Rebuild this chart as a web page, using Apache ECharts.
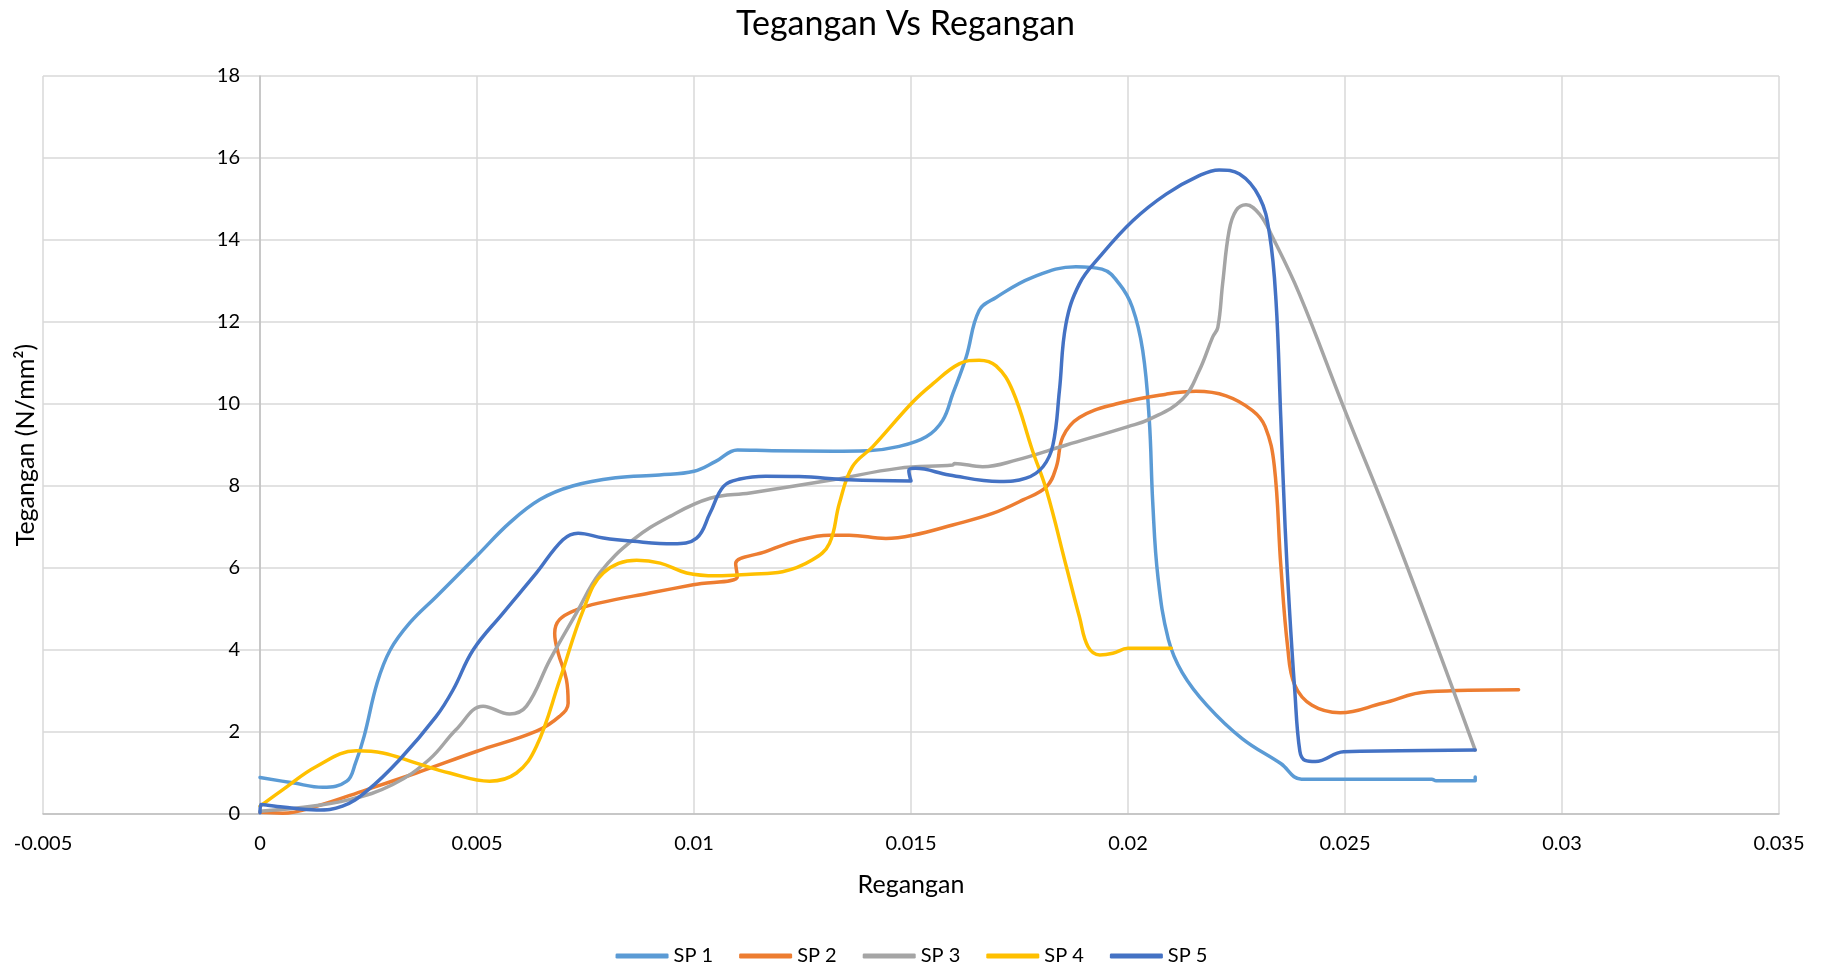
<!DOCTYPE html>
<html>
<head>
<meta charset="utf-8">
<script src="https://cdn.jsdelivr.net/npm/echarts@6/dist/echarts.min.js"></script>
<style>
html,body{margin:0;padding:0;background:#fff;}
#chart{width:1823px;height:967px;}
</style>
</head>
<body>
<div id="chart"></div>
<script>
// ---- data ----
const seriesNames = ['SP 1', 'SP 2', 'SP 3', 'SP 4', 'SP 5'];

const strainSP1 = [0, 0.00075, 0.00145, 0.002, 0.0022, 0.0024, 0.0027, 0.003, 0.00345, 0.00406, 0.005, 0.00575, 0.00645, 0.0072, 0.0082, 0.0092, 0.01, 0.0105, 0.011, 0.0118, 0.0132, 0.014, 0.0147, 0.01535, 0.01573, 0.01596, 0.01627, 0.01657, 0.01696, 0.0178, 0.0188, 0.0194, 0.0198, 0.0201, 0.02034, 0.02049, 0.02057, 0.02069, 0.02093, 0.02125, 0.02182, 0.02263, 0.02352, 0.024, 0.027, 0.0271, 0.028, 0.028];
const stressSP1 = [0.89, 0.76, 0.65, 0.80, 1.24, 1.9, 3.2, 4.0, 4.66, 5.3, 6.3, 7.1, 7.67, 8.0, 8.2, 8.27, 8.36, 8.6, 8.88, 8.86, 8.85, 8.86, 8.96, 9.2, 9.6, 10.24, 11.14, 12.28, 12.6, 13.09, 13.35, 13.29, 12.93, 12.36, 11.3, 9.62, 7.6, 5.78, 4.26, 3.45, 2.65, 1.84, 1.23, 0.85, 0.85, 0.81, 0.81, 0.9];

const strainSP2 = [0, 0.00052, 0.0013, 0.00245, 0.0036, 0.005, 0.00637, 0.0069, 0.0071, 0.00706, 0.00687, 0.00679, 0.0069, 0.00729, 0.00783, 0.00898, 0.00998, 0.011, 0.01096, 0.01165, 0.01242, 0.01312, 0.01358, 0.01442, 0.01504, 0.01596, 0.01688, 0.01758, 0.01812, 0.01835, 0.0185, 0.01888, 0.01972, 0.02088, 0.02157, 0.02226, 0.02287, 0.02316, 0.02337, 0.02352, 0.02368, 0.02384, 0.02424, 0.02489, 0.02586, 0.02691, 0.029];
const stressSP2 = [0.04, 0.02, 0.19, 0.59, 1.0, 1.53, 2.02, 2.38, 2.7, 3.28, 3.93, 4.41, 4.74, 4.98, 5.15, 5.39, 5.59, 5.79, 6.11, 6.4, 6.68, 6.8, 6.8, 6.72, 6.8, 7.05, 7.33, 7.66, 7.98, 8.47, 9.2, 9.67, 10.0, 10.24, 10.31, 10.2, 9.84, 9.45, 8.5, 6.08, 4.06, 3.15, 2.65, 2.47, 2.7, 2.98, 3.03];

const strainSP3 = [0, 0.0009, 0.00206, 0.00306, 0.0039, 0.00452, 0.00514, 0.00575, 0.00614, 0.00668, 0.00729, 0.00783, 0.0086, 0.00945, 0.01037, 0.01129, 0.0132, 0.0147, 0.01596, 0.016, 0.01665, 0.01742, 0.01858, 0.02, 0.0205, 0.02126, 0.02164, 0.02195, 0.02207, 0.02218, 0.02233, 0.02249, 0.02272, 0.02303, 0.02333, 0.02395, 0.02497, 0.02627, 0.028];
const stressSP3 = [0.07, 0.15, 0.35, 0.72, 1.33, 2.06, 2.63, 2.44, 2.63, 3.76, 4.9, 5.88, 6.69, 7.26, 7.7, 7.83, 8.15, 8.43, 8.51, 8.55, 8.47, 8.63, 9.0, 9.45, 9.63, 10.12, 10.81, 11.63, 11.87, 12.93, 14.23, 14.72, 14.86, 14.63, 14.07, 12.68, 9.92, 6.48, 1.56];

const strainSP4 = [0, 0.00052, 0.0013, 0.00222, 0.00283, 0.0036, 0.00437, 0.00529, 0.00591, 0.00637, 0.00691, 0.00745, 0.00791, 0.00868, 0.00922, 0.00983, 0.01052, 0.0113, 0.01204, 0.01273, 0.01312, 0.01335, 0.01365, 0.01412, 0.01504, 0.0155, 0.01611, 0.01657, 0.01696, 0.01734, 0.0178, 0.01812, 0.01858, 0.01888, 0.01908, 0.01935, 0.01965, 0.02, 0.021];
const stressSP4 = [0.19, 0.59, 1.16, 1.54, 1.49, 1.24, 1.0, 0.8, 1.0, 1.65, 3.28, 4.98, 5.88, 6.19, 6.12, 5.88, 5.81, 5.85, 5.91, 6.2, 6.6, 7.58, 8.47, 8.96, 10.05, 10.49, 10.98, 11.07, 10.93, 10.33, 8.86, 7.9, 6.03, 4.81, 4.08, 3.88, 3.92, 4.04, 4.04];

const strainSP5 = [0, 0.00002, 0.00052, 0.0013, 0.0019, 0.00245, 0.00322, 0.00406, 0.00445, 0.00491, 0.0056, 0.00637, 0.00698, 0.00733, 0.00791, 0.0086, 0.00952, 0.01006, 0.01037, 0.01068, 0.01106, 0.01165, 0.01242, 0.01358, 0.015, 0.01495, 0.0151, 0.01588, 0.01704, 0.01765, 0.01804, 0.01827, 0.01842, 0.01857, 0.01888, 0.01934, 0.02011, 0.02088, 0.02164, 0.0221, 0.02257, 0.02303, 0.02326, 0.02341, 0.02352, 0.02362, 0.02372, 0.02384, 0.02396, 0.02408, 0.02432, 0.02497, 0.02627, 0.028];
const stressSP5 = [0.03, 0.23, 0.17, 0.1, 0.19, 0.55, 1.33, 2.38, 3.03, 4.0, 4.9, 5.88, 6.69, 6.85, 6.73, 6.65, 6.59, 6.73, 7.34, 7.99, 8.17, 8.24, 8.23, 8.15, 8.12, 8.38, 8.43, 8.27, 8.11, 8.19, 8.47, 9.0, 10.33, 11.95, 12.93, 13.58, 14.47, 15.12, 15.57, 15.71, 15.61, 15.04, 14.15, 12.52, 9.67, 7.0, 5.0, 3.05, 1.53, 1.31, 1.28, 1.52, 1.54, 1.56];

const strains = [strainSP1, strainSP2, strainSP3, strainSP4, strainSP5];
const stresses = [stressSP1, stressSP2, stressSP3, stressSP4, stressSP5];
const colors = ['#5B9BD5', '#ED7D31', '#A5A5A5', '#FFC000', '#4472C4'];

const FONT = 'Lato, "Noto Sans", sans-serif';

const GRID_LEFT = 43, GRID_RIGHT = 44;
const plotWidth = 1823 - GRID_LEFT - GRID_RIGHT;
const xMin = -0.005, xMax = 0.035;
// place the y axis at strain = 0 (as in the reference)
const yAxisOffset = -plotWidth * (0 - xMin) / (xMax - xMin);

const chart = echarts.init(document.getElementById('chart'), null, {renderer: 'canvas'});
const series = seriesNames.map((name, i) => ({
  name: name,
  type: 'line',
  data: strains[i].map((x, k) => [x, stresses[i][k]]),
  smooth: 0.4,
  symbol: 'none',
  lineStyle: {width: 3.5, color: colors[i], cap: 'round', join: 'round'},
  itemStyle: {color: colors[i]},
  emphasis: {disabled: true}
}));

chart.setOption({
  animation: false,
  backgroundColor: '#ffffff',
  title: {
    text: 'Tegangan Vs Regangan',
    left: 731,
    top: 2,
    textStyle: {fontFamily: FONT, fontSize: 34, fontWeight: 'normal', color: '#000000'}
  },
  legend: {
    data: seriesNames,
    left: 'center',
    top: 941,
    icon: 'roundRect',
    itemWidth: 53,
    itemHeight: 5,
    itemGap: 26,
    textStyle: {fontFamily: FONT, fontSize: 20, color: '#000000'}
  },
  grid: {left: GRID_LEFT, right: GRID_RIGHT, top: 76, bottom: 153, containLabel: false, outerBoundsMode: 'none'},
  xAxis: {
    type: 'value',
    min: xMin,
    max: xMax,
    interval: 0.005,
    name: 'Regangan',
    nameLocation: 'middle',
    nameGap: 58,
    nameTextStyle: {fontFamily: FONT, fontSize: 25, color: '#000000'},
    axisLine: {show: true, onZero: false, lineStyle: {color: '#BFBFBF', width: 1.5}},
    axisTick: {show: false},
    axisLabel: {fontFamily: FONT, fontSize: 20, color: '#000000', margin: 20},
    splitLine: {show: true, lineStyle: {color: '#D9D9D9', width: 1.5}}
  },
  yAxis: {
    type: 'value',
    min: 0,
    max: 18,
    interval: 2,
    offset: yAxisOffset,
    name: 'Tegangan (N/mm²)',
    nameLocation: 'middle',
    nameGap: 222,
    nameTextStyle: {fontFamily: FONT, fontSize: 25, color: '#000000'},
    axisLine: {show: true, onZero: false, lineStyle: {color: '#BFBFBF', width: 1.5}},
    axisTick: {show: false},
    axisLabel: {fontFamily: FONT, fontSize: 20, color: '#000000', margin: 20},
    splitLine: {show: true, lineStyle: {color: '#D9D9D9', width: 1.5}}
  },
  series: series
});
</script>
</body>
</html>
